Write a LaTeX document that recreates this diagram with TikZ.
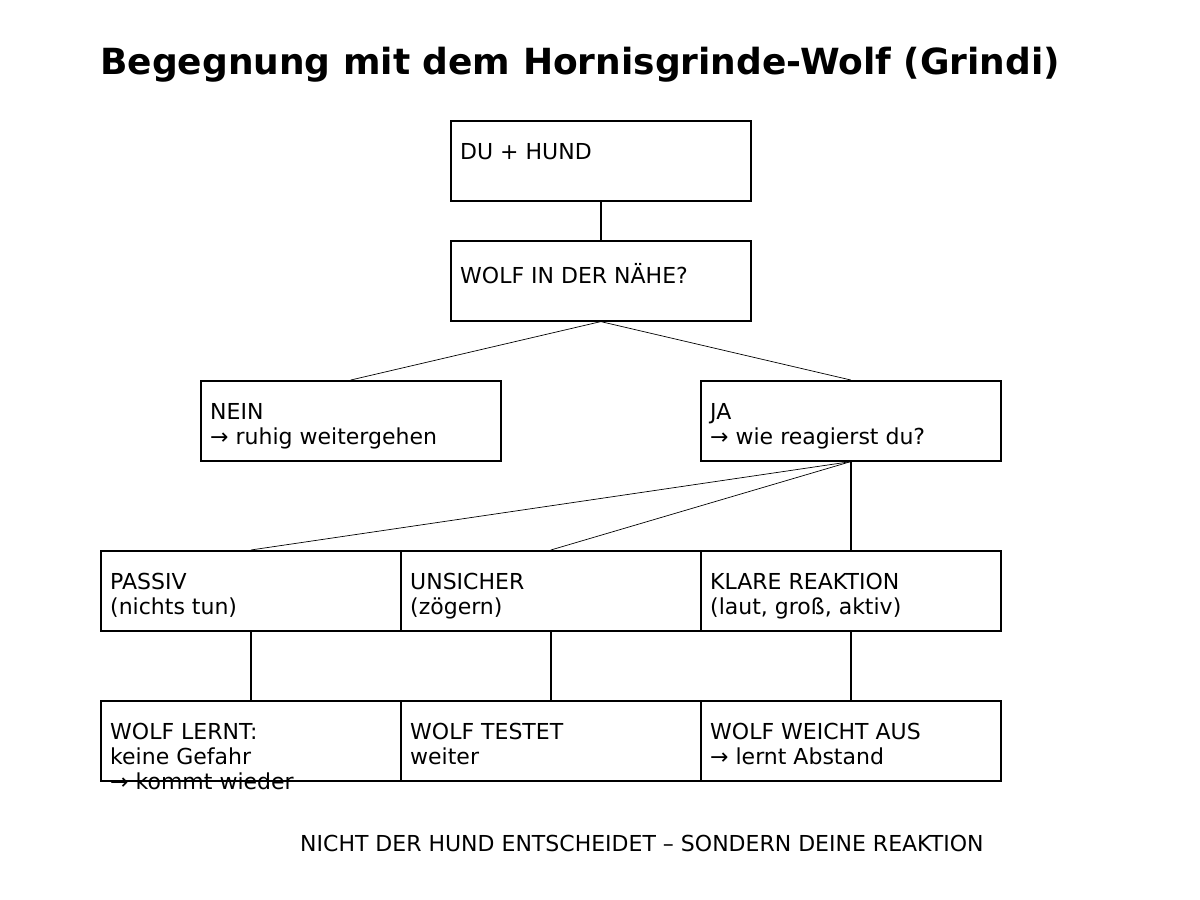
\documentclass[tikz,border=0pt]{standalone}
\usepackage{fontspec}
\setmainfont{DejaVu Sans}
\begin{document}
\begin{tikzpicture}[x=1pt,y=-1pt,
  box/.style={draw,line width=1.6pt,minimum width=300pt,minimum height=80pt,inner sep=0pt,anchor=north west},
  txt/.style={anchor=north west,align=left,inner sep=0pt,font=\fontsize{22}{25}\selectfont},
  thin/.style={line width=0.7pt},
  thick/.style={line width=1.6pt}]
\useasboundingbox (0,0) rectangle (1200,900);
\node[anchor=base west,inner sep=0pt,font=\fontsize{36}{40}\selectfont\bfseries] (title) at (100,74) {Begegnung mit dem Hornisgrinde-Wolf (Grindi)};
\newcommand\bx[4]{\node[box] (#1) at (#2,#3) {};
  \node[txt] (#1t) at (#2+10,#3+23) {#4};}
\bx{du}{450}{120}{DU + HUND}
\bx{wolf}{450}{240}{WOLF IN DER NÄHE?}
\bx{nein}{200}{380}{NEIN\\→ ruhig weitergehen}
\bx{ja}{700}{380}{JA\\→ wie reagierst du?}
\bx{pas}{100}{550}{PASSIV\\(nichts tun)}
\bx{uns}{400}{550}{UNSICHER\\(zögern)}
\bx{kla}{700}{550}{KLARE REAKTION\\(laut, groß, aktiv)}
\bx{wl}{100}{700}{WOLF LERNT:\\keine Gefahr\\→ kommt wieder}
\bx{wt}{400}{700}{WOLF TESTET\\weiter}
\bx{ww}{700}{700}{WOLF WEICHT AUS\\→ lernt Abstand}
\node[anchor=base west,inner sep=0pt,font=\fontsize{22}{25}\selectfont] (foot) at (300,851) {NICHT DER HUND ENTSCHEIDET – SONDERN DEINE REAKTION};
\draw[thick] (du.south) -- (wolf.north);
\draw[thin] (wolf.south) -- (nein.north);
\draw[thin] (wolf.south) -- (ja.north);
\draw[thin] (ja.south) -- (pas.north);
\draw[thin] (ja.south) -- (uns.north);
\draw[thick] (ja.south) -- (kla.north);
\draw[thick] (pas.south) -- (wl.north);
\draw[thick] (uns.south) -- (wt.north);
\draw[thick] (kla.south) -- (ww.north);
\end{tikzpicture}
\end{document}
